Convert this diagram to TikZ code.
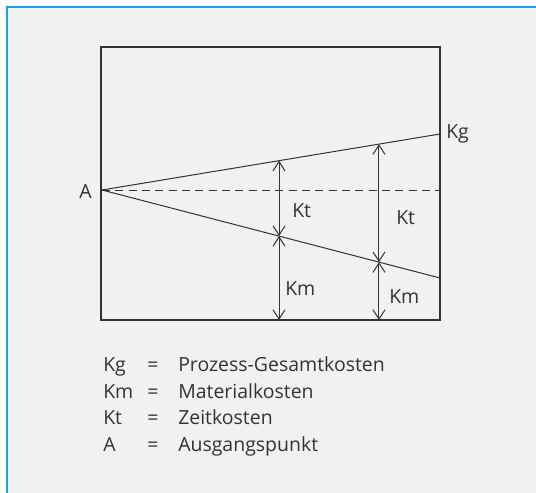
\documentclass[tikz,border=0pt]{standalone}
\usepackage{fontspec}
\setmainfont{Open Sans}
\usepackage{xcolor}
\usetikzlibrary{arrows.meta,positioning,calc}

\definecolor{panelgray}{HTML}{F1F1F1}
\definecolor{panelblue}{HTML}{1AA3E8}
\definecolor{inkgray}{HTML}{333333}

\begin{document}
\begin{tikzpicture}[
  x=0.75pt, y=-0.75pt,
  every node/.style={font=\fontsize{14.6}{17}\selectfont, text=inkgray, inner sep=0pt},
  frame/.style={draw=inkgray, line width=0.8pt},
  costline/.style={draw=inkgray, line width=0.75pt},
  helpline/.style={draw=inkgray, line width=0.7pt, dash pattern=on 6pt off 4pt},
  measure/.style={{Straight Barb[length=7pt,width=9pt]}-{Straight Barb[length=7pt,width=9pt]}, draw=inkgray, line width=0.75pt},
  label/.style={anchor=base west},
]
\useasboundingbox (0,0) rectangle (536,493);
% --- panel background with blue edge on top and left
\fill[panelgray] (7,7) rectangle (536,493);
\draw[panelblue, line width=1.5pt] (7,493) -- (7,7) -- (536,7);

% --- chart box
\draw[frame] (101,47) rectangle (440,320);
\coordinate (A) at (102,190);
\coordinate (gEnd) at (440,134);
\coordinate (mEnd) at (440,278);
\coordinate (hEnd) at (440,190);

% cost lines from the starting point
\draw[costline] (A) -- (gEnd);
\draw[costline] (A) -- (mEnd);
\draw[helpline] (A) -- (hEnd);

% points on the lines where the measures sit
\coordinate (g1) at ($(A)!0.5237!(gEnd)$);
\coordinate (m1) at ($(A)!0.5237!(mEnd)$);
\coordinate (b1) at (g1 |- 0,320);
\coordinate (g2) at ($(A)!0.8195!(gEnd)$);
\coordinate (m2) at ($(A)!0.8195!(mEnd)$);
\coordinate (b2) at (g2 |- 0,320);

% --- measures Kt and Km
\draw[measure] (g1) -- (m1);
\draw[measure] (m1) -- (b1);
\draw[measure] (g2) -- (m2);
\draw[measure] (m2) -- (b2);

\node[label] (lA)   at (79,198)  {A};
\node[label] (lKg)  at (446,138) {Kg};
\node[label] (lKt1) at (292,217) {Kt};
\node[label] (lKt2) at (396,224) {Kt};
\node[label] (lKm1) at (285,295) {Km};
\node[label] (lKm2) at (389,303) {Km};

% --- legend
\node[label] (kKg) at (103,371) {Kg};
\node[label] (kKm) at (103,398) {Km};
\node[label] (kKt) at (103,424) {Kt};
\node[label] (kA)  at (103,451) {A};
\foreach \yy/\nm in {371/eqKg,398/eqKm,424/eqKt,451/eqA}
  \node[anchor=base] (\nm) at (153,\yy) {=};
\node[label] (dKg) at (178,371) {Prozess-Gesamtkosten};
\node[label] (dKm) at (178,398) {Materialkosten};
\node[label] (dKt) at (178,424) {Zeitkosten};
\node[label] (dA)  at (178,451) {Ausgangspunkt};
\end{tikzpicture}
\end{document}
